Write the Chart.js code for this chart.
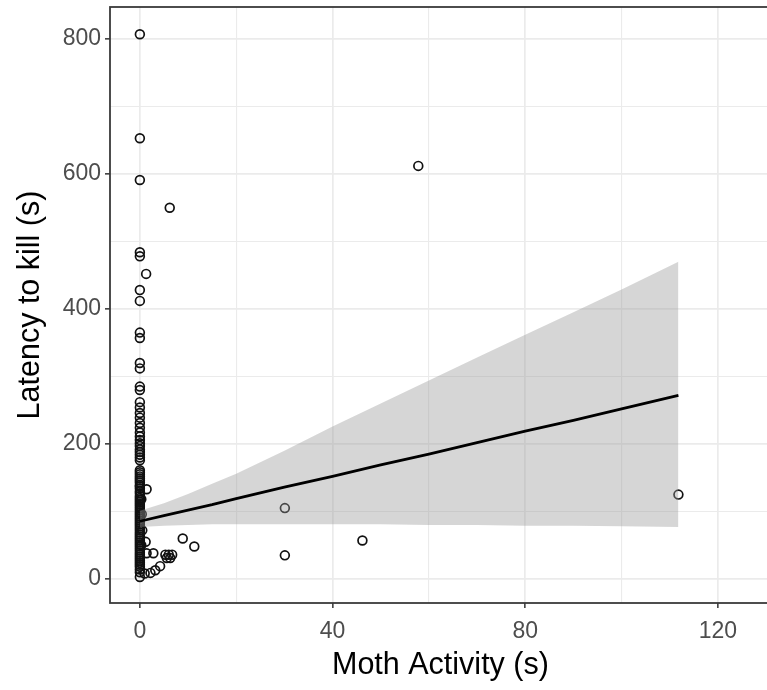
<!DOCTYPE html>
<html>
<head>
<meta charset="utf-8">
<script src="https://cdn.jsdelivr.net/npm/chart.js@4.4.1/dist/chart.umd.min.js"></script>
<style>
  html, body { margin: 0; padding: 0; background: #ffffff; overflow: hidden; }
  #wrap { width: 767px; height: 690px; overflow: hidden; }
  canvas { display: block; }
</style>
</head>
<body>
<div id="wrap"><canvas id="chart" width="777" height="690"></canvas></div>
<script>
// Moth activity (s) and latency to kill (s), one entry per trial
const mothActivity = [
  0, 0, 0, 0, 0, 0, 0, 0, 0, 0, 0, 0, 0, 0, 0, 0, 0, 0, 0, 0,
  0, 0, 0, 0, 0, 0, 0, 0, 0, 0, 0, 0, 0, 0, 0, 0, 0, 0, 0, 0,
  0, 0, 0, 0, 0, 0, 0, 0, 0, 0, 0, 0, 0, 0, 0, 0, 0, 0, 0, 0,
  0, 0, 0, 0, 0, 0, 0, 0, 0, 0, 0, 0, 0, 0, 0, 0, 0, 0, 0, 0,
  0.3, 0.4, 0.5, 0.3,
  1.3, 1.4, 6.2, 57.8, 1.2, 1.4, 2.8, 5.3, 6.0, 6.7, 5.6, 6.3,
  4.2, 3.2, 2.2, 1.0, 8.9, 11.3, 30.1, 30.1, 46.2, 111.8
];
const latencyToKill = [
  807, 653, 591, 484, 478, 428, 412, 365, 357, 320, 312, 285, 280, 262, 254, 246, 239, 231, 224, 217,
  211, 206, 201, 197, 192, 188, 184, 180, 176, 161, 158, 155, 152, 149, 146, 143, 139, 137, 134, 130,
  127, 123, 120, 117, 114, 111, 108, 105, 102, 99, 96, 93, 90, 87, 84, 81, 78, 75, 72, 69,
  66, 63, 60, 57, 54, 51, 48, 45, 42, 39, 36, 33, 30, 27, 24, 21, 18, 14, 10, 3,
  118, 96, 72, 50,
  452, 133, 550, 612, 55, 38, 38, 36, 36, 36, 31, 31,
  19, 13, 9, 8, 60, 48, 105, 35, 57, 125
];

// Linear fit with its 95% confidence band
const smoothX     = [0, 5, 10, 15, 20, 30, 40, 50, 60, 70, 80, 90, 100, 111.8];
const smoothFit   = [85.5, 94, 102, 110, 119, 136, 152, 169, 185, 202, 219, 235, 252, 272];
const smoothUpper = [101, 112, 126, 141, 156, 190, 226, 260, 294, 328, 362, 395, 429, 470];
const smoothLower = [77, 79, 80, 81, 81, 81, 81, 81, 80, 80, 79, 79, 78, 77];

// Axis breaks
const xBreaks = [0, 20, 40, 60, 80, 100, 120];
const xLabelled = [0, 40, 80, 120];
const yBreaks = [0, 100, 200, 300, 400, 500, 600, 700, 800];
const yLabelled = [0, 200, 400, 600, 800];

const FONT = "'Liberation Sans', Arial, Helvetica, sans-serif";

const points = mothActivity.map((x, i) => ({ x: x, y: latencyToKill[i] }));
const toXY = arr => smoothX.map((x, i) => ({ x: x, y: arr[i] }));

// Panel frame drawn over the data
const panelBorder = {
  id: 'panelBorder',
  afterDatasetsDraw(chart) {
    const { ctx, chartArea: a } = chart;
    ctx.save();
    ctx.strokeStyle = '#3a3a3a';
    ctx.lineWidth = 1.8;
    ctx.strokeRect(a.left, a.top, a.right - a.left, a.bottom - a.top);
    ctx.restore();
  }
};

function gridFor(labelled) {
  return {
    display: true,
    drawOnChartArea: true,
    drawTicks: true,
    tickLength: 5,
    color: '#ebebeb',
    lineWidth: c => (c.tick && labelled.includes(c.tick.value)) ? 1.7 : 1.1,
    tickColor: c => (c.tick && labelled.includes(c.tick.value)) ? '#333333' : 'rgba(0,0,0,0)',
    tickWidth: 1.5
  };
}

// Keep the panel edges fixed: no extra room for overhanging labels
function fixedBox(size, horizontal) {
  return s => {
    if (horizontal) { s.height = size; } else { s.width = size; }
    s.paddingTop = 0; s.paddingBottom = 0; s.paddingLeft = 0; s.paddingRight = 0;
  };
}

new Chart(document.getElementById('chart'), {
  type: 'scatter',
  data: {
    datasets: [
      {
        type: 'line',
        label: 'fit',
        data: toXY(smoothFit),
        borderColor: '#000000',
        borderWidth: 2.8,
        pointRadius: 0,
        fill: false,
        tension: 0,
        order: 1
      },
      {
        type: 'line',
        label: 'upper',
        data: toXY(smoothUpper),
        borderColor: 'rgba(0,0,0,0)',
        borderWidth: 0,
        pointRadius: 0,
        backgroundColor: 'rgba(153,153,153,0.4)',
        fill: '+1',
        tension: 0,
        order: 2
      },
      {
        type: 'line',
        label: 'lower',
        data: toXY(smoothLower),
        borderColor: 'rgba(0,0,0,0)',
        borderWidth: 0,
        pointRadius: 0,
        fill: false,
        tension: 0,
        order: 2
      },
      {
        type: 'scatter',
        label: 'trials',
        data: points,
        pointRadius: 4.4,
        pointHoverRadius: 4.4,
        borderWidth: 1.7,
        borderColor: '#111111',
        backgroundColor: 'rgba(0,0,0,0)',
        order: 3
      }
    ]
  },
  options: {
    responsive: false,
    animation: false,
    devicePixelRatio: 1,
    layout: { padding: { top: 7, left: 0, right: 0, bottom: 0 } },
    plugins: { legend: { display: false }, tooltip: { enabled: false } },
    scales: {
      x: {
        type: 'linear',
        min: -6.2,
        max: 131,
        afterBuildTicks: s => { s.ticks = xBreaks.map(v => ({ value: v })); },
        afterFit: fixedBox(87, true),
        grid: gridFor(xLabelled),
        border: { display: false },
        ticks: {
          autoSkip: false,
          maxRotation: 0,
          padding: 10,
          color: '#4d4d4d',
          font: { family: FONT, size: 23 },
          callback: v => xLabelled.includes(v) ? String(v) : ''
        },
        title: {
          display: true,
          text: 'Moth Activity (s)',
          color: '#000000',
          font: { family: FONT, size: 30.5 },
          padding: { top: 0, bottom: 6 }
        }
      },
      y: {
        type: 'linear',
        min: -35.6,
        max: 847.4,
        afterBuildTicks: s => { s.ticks = yBreaks.map(v => ({ value: v })); },
        afterFit: fixedBox(110, false),
        grid: gridFor(yLabelled),
        border: { display: false },
        ticks: {
          autoSkip: false,
          padding: 4,
          color: '#4d4d4d',
          font: { family: FONT, size: 23 },
          callback: v => yLabelled.includes(v) ? String(v) : ''
        },
        title: {
          display: true,
          text: 'Latency to kill (s)',
          color: '#000000',
          font: { family: FONT, size: 30.5 },
          padding: { top: 12, bottom: 0 }
        }
      }
    }
  },
  plugins: [panelBorder]
});
</script>
</body>
</html>
